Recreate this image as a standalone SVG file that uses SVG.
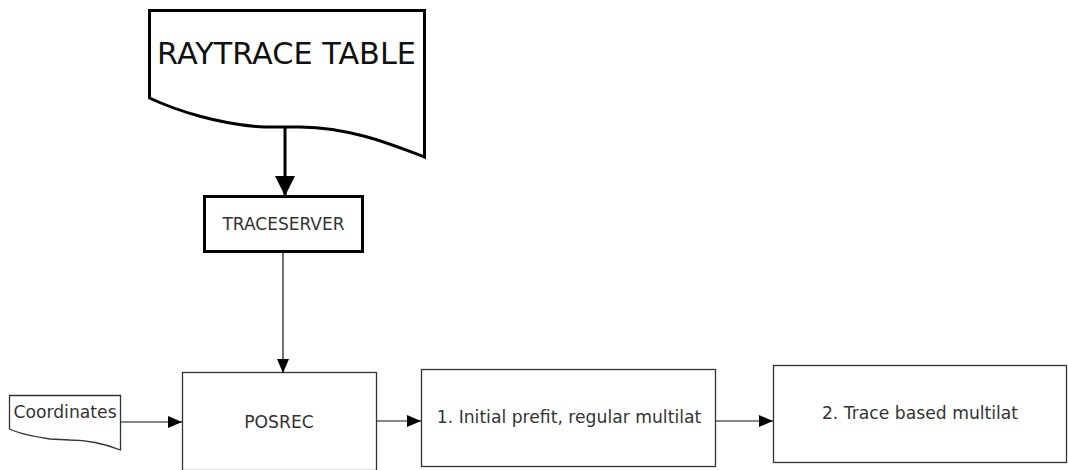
<svg xmlns="http://www.w3.org/2000/svg" width="1068" height="470" viewBox="0 0 1068 470">
<style>
.box{fill:#fff;stroke:#333;stroke-width:1.3}
.thick{fill:#fff;stroke:#000;stroke-width:3}
.lbl{font-family:"DejaVu Sans",sans-serif;fill:#333;text-anchor:middle}
.con{stroke:#111;stroke-width:1.2;fill:none}
.conT{stroke:#000;stroke-width:3;fill:none}
</style>
<defs>
<marker id="ah" markerWidth="14" markerHeight="12" refX="14" refY="6" orient="auto" markerUnits="userSpaceOnUse">
<path d="M0,0 L14,6 L0,12 Z" fill="#000"/>
</marker>
<marker id="ahT" markerWidth="22" markerHeight="20" refX="20" refY="10" orient="auto" markerUnits="userSpaceOnUse">
<path d="M0,0 L20,10 L0,20 Z" fill="#000"/>
</marker>
</defs>
<g id="raytrace-table">
<path class="thick" d="M149.5,10.5 L424.5,10.5 L424.5,157 C395,146 355,128 300,127 L265,127 C220,125 175,110 149.5,98 Z"/>
<text class="lbl" x="286.5" y="64" font-size="30.3" style="fill:#111">RAYTRACE TABLE</text>
</g>
<g id="traceserver">
<rect class="thick" x="204.5" y="196.5" width="158" height="55"/>
<text class="lbl" x="283.5" y="230" font-size="17">TRACESERVER</text>
</g>
<g id="coordinates">
<path class="box" d="M9.5,395.5 L120.5,395.5 L120.5,450 C100,442 85,440 70,440 L50,439 C30,436 18,433 9.5,429 Z"/>
<text class="lbl" x="65" y="418" font-size="17.2">Coordinates</text>
</g>
<g id="posrec">
<rect class="box" x="182.5" y="372.5" width="194" height="98"/>
<text class="lbl" x="279" y="428" font-size="17.2">POSREC</text>
</g>
<g id="step1">
<rect class="box" x="421.5" y="369.5" width="294" height="97"/>
<text class="lbl" x="569" y="423" font-size="17.2">1. Initial prefit, regular multilat</text>
</g>
<g id="step2">
<rect class="box" x="773.5" y="365.5" width="293" height="97"/>
<text class="lbl" x="920" y="419" font-size="17.2">2. Trace based multilat</text>
</g>
<g id="connectors">
<path class="conT" d="M285,127 L285,196" marker-end="url(#ahT)"/>
<path class="con" d="M283,252 L283,373" marker-end="url(#ah)"/>
<path class="con" d="M120.5,422 L182,422" marker-end="url(#ah)"/>
<path class="con" d="M377,421 L421,421" marker-end="url(#ah)"/>
<path class="con" d="M716,421 L773,421" marker-end="url(#ah)"/>
</g>
</svg>
